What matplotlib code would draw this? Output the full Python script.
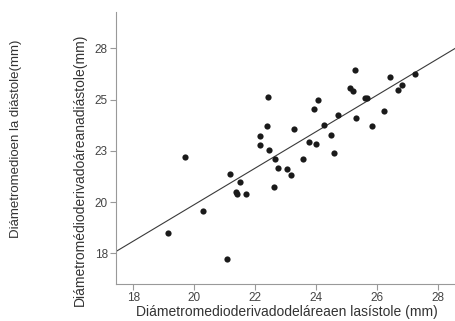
import matplotlib.pyplot as plt
import numpy as np

plt.rcParams['font.family'] = ['Liberation Sans', 'DejaVu Sans']

# diámetro en sístole (x) y en diástole (y), mm
sistole = [19.70, 22.41, 22.39, 22.16, 22.16, 22.47, 22.64, 23.28, 23.57, 23.76,
           23.99, 23.94, 24.06, 24.27, 24.50, 24.59, 24.73, 25.13, 25.22, 25.28,
           25.31, 25.60, 25.69, 25.83, 26.24, 26.42, 26.69, 26.82, 27.25, 21.19,
           21.50, 21.37, 21.41, 21.71, 22.63, 22.74, 23.05, 23.18, 20.28, 19.14,
           21.09]
diastole = [22.21, 25.12, 23.70, 23.24, 22.80, 22.52, 22.11, 23.56, 22.09, 22.94,
            22.85, 24.54, 24.98, 23.77, 23.27, 22.38, 24.23, 25.58, 25.40, 26.43,
            24.09, 25.09, 25.09, 23.72, 24.43, 26.11, 25.47, 25.72, 26.25, 21.37,
            20.98, 20.49, 20.41, 20.41, 20.75, 21.65, 21.63, 21.30, 19.58, 18.48,
            17.21]

xticks = [18, 20, 22, 24, 26, 28]
yticks = [17.5, 20, 22.5, 25, 27.5]
ytick_labels = ['18', '20', '23', '25', '28']

fig = plt.figure(figsize=(4.56, 3.21), dpi=100)
ax = fig.add_axes([0.2533, 0.1153, 0.7445, 0.8473])

ax.scatter(sistole, diastole, s=20, color='#1a1a1a', linewidths=0, zorder=3)

# recta de regresión
b, a = np.polyfit(sistole, diastole, 1)
xl = np.array([17.0, 29.0])
ax.plot(xl, a + b * xl, color='#3a3a3a', linewidth=0.8)

ax.set_xlim(17.415, 28.57)
ax.set_ylim(16.0, 29.27)
ax.set_xticks(xticks)
ax.set_yticks(yticks)
ax.set_yticklabels(ytick_labels)

for s in ['top', 'right']:
    ax.spines[s].set_visible(False)
for s in ['left', 'bottom']:
    ax.spines[s].set_color('#999999')
    ax.spines[s].set_linewidth(0.8)
ax.tick_params(direction='out', length=4, width=0.8, color='#999999',
               labelcolor='#444444', labelsize=8.5, pad=1.5)

fig.text(0.63, 0.028, 'Diámetromedioderivadodeláreaen lasístole (mm)',
         ha='center', va='center', fontsize=10, color='#333333')
fig.text(0.176, 0.47, 'Diámetromédioderivadoáreanadiástole(mm)',
         ha='center', va='center', rotation=90, fontsize=10, color='#333333')
fig.text(0.035, 0.568, 'Diámetromedioen la diástole(mm)',
         ha='center', va='center', rotation=90, fontsize=9.5, color='#333333')

plt.savefig('out.png', dpi=100)
